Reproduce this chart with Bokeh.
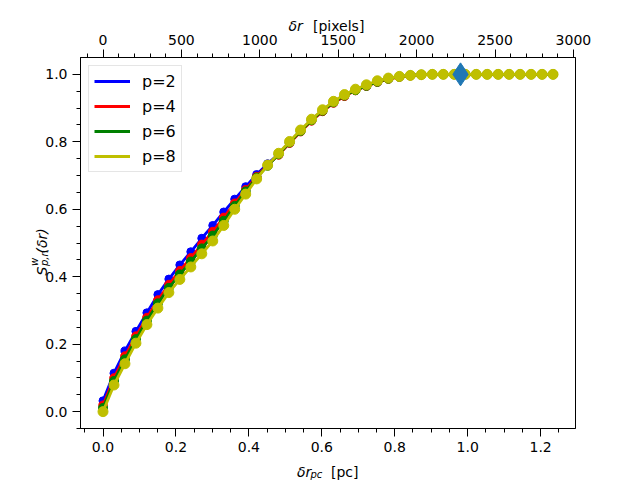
import math
from bokeh.plotting import figure
from bokeh.models import (Range1d, LinearAxis, FixedTicker, PrintfTickFormatter,
                          Label, Legend)
from bokeh.embed import file_html
from bokeh.resources import INLINE

# ---------------- data ----------------
lag_pixels = [0, 70, 140, 210, 280, 350, 420, 490, 560, 630, 700, 770, 840, 910,
              980, 1050, 1120, 1190, 1260, 1330, 1400, 1470, 1540, 1610, 1680,
              1750, 1820, 1890, 1960, 2030, 2100, 2170, 2240, 2310, 2380, 2450,
              2520, 2590, 2660, 2730, 2800, 2870]
PC_PER_PIXEL = 4.3e-4

s_p2 = [0.032, 0.114, 0.180, 0.238, 0.293, 0.347, 0.393, 0.435, 0.474, 0.514,
        0.552, 0.592, 0.630, 0.667, 0.703, 0.735, 0.764, 0.799, 0.833, 0.865,
        0.893, 0.918, 0.938, 0.954, 0.967, 0.979, 0.988, 0.993, 0.997, 0.999,
        1.0, 1.0, 1.0, 1.0, 1.0, 1.0, 1.0, 1.0, 1.0, 1.0, 1.0, 1.0]
s_p4 = [0.019, 0.100, 0.165, 0.224, 0.279, 0.331, 0.377, 0.418, 0.456, 0.496,
        0.534, 0.576, 0.618, 0.658, 0.697, 0.731, 0.761, 0.796, 0.830, 0.862,
        0.890, 0.915, 0.935, 0.952, 0.965, 0.977, 0.986, 0.992, 0.996, 0.999,
        1.0, 1.0, 1.0, 1.0, 1.0, 1.0, 1.0, 1.0, 1.0, 1.0, 1.0, 1.0]
s_p6 = [0.011, 0.091, 0.155, 0.215, 0.270, 0.321, 0.367, 0.407, 0.445, 0.484,
        0.522, 0.566, 0.610, 0.653, 0.694, 0.729, 0.763, 0.798, 0.832, 0.864,
        0.892, 0.917, 0.937, 0.953, 0.966, 0.978, 0.987, 0.993, 0.997, 0.999,
        1.0, 1.0, 1.0, 1.0, 1.0, 1.0, 1.0, 1.0, 1.0, 1.0, 1.0, 1.0]
s_p8 = [0.000, 0.079, 0.142, 0.203, 0.258, 0.307, 0.353, 0.392, 0.429, 0.468,
        0.506, 0.552, 0.600, 0.645, 0.690, 0.731, 0.766, 0.801, 0.835, 0.867,
        0.895, 0.920, 0.940, 0.956, 0.969, 0.981, 0.989, 0.994, 0.997, 0.999,
        1.0, 1.0, 1.0, 1.0, 1.0, 1.0, 1.0, 1.0, 1.0, 1.0, 1.0, 1.0]

series_labels = ["p=2", "p=4", "p=6", "p=8"]
series_values = [s_p2, s_p4, s_p6, s_p8]
series_colors = ["#0000ff", "#ff0000", "#008000", "#bfbf00"]
marker_sizes = [8, 8.5, 9, 10]

marker_pixel = [2280]
marker_value = [1.0]

bottom_ticks = [0.0, 0.2, 0.4, 0.6, 0.8, 1.0, 1.2]
top_ticks = [0, 500, 1000, 1500, 2000, 2500, 3000]
left_ticks = [0.0, 0.2, 0.4, 0.6, 0.8, 1.0]

lag_pc = [px * PC_PER_PIXEL for px in lag_pixels]

FONT = "DejaVu Sans"

x0, x1 = -0.0617, 1.2957
p = figure(frame_width=495, frame_height=371,
           x_range=Range1d(x0, x1), y_range=Range1d(-0.05, 1.05),
           output_backend="svg", toolbar_location=None,
           min_border_left=80, min_border_top=57, min_border_right=60,
           min_border_bottom=40)
p.extra_x_ranges = {"pix": Range1d(x0 / PC_PER_PIXEL, x1 / PC_PER_PIXEL)}
p.xgrid.visible = False
p.ygrid.visible = False
p.outline_line_color = "black"
p.outline_line_width = 1
p.background_fill_color = "white"
p.border_fill_color = "white"


def style_axis(ax, ticks, fmt, nminor):
    ax.formatter = PrintfTickFormatter(format=fmt)
    ax.major_label_text_font = FONT
    ax.major_label_text_font_size = "14px"
    ax.major_label_text_color = "black"
    ax.axis_line_color = "black"
    ax.major_tick_line_color = "black"
    ax.minor_tick_line_color = "black"
    ax.major_tick_out = 8
    ax.major_tick_in = 0
    ax.minor_tick_out = 4
    ax.minor_tick_in = 0
    ax.major_label_standoff = 5
    step = ticks[1] - ticks[0]
    minors = []
    lo = ticks[0] - step
    for k in range(len(ticks) + 1):
        base = lo + k * step
        for j in range(1, nminor):
            minors.append(base + j * step / nminor)
    ax.ticker = FixedTicker(ticks=ticks, minor_ticks=minors)


style_axis(p.xaxis[0], bottom_ticks, "%.1f", 4)
style_axis(p.yaxis[0], left_ticks, "%.1f", 4)

top_axis = LinearAxis(x_range_name="pix")
style_axis(top_axis, top_ticks, "%d", 5)
p.add_layout(top_axis, "above")

legend_items = []
for lab_txt, vals, col, ms in zip(series_labels, series_values, series_colors, marker_sizes):
    r = p.line(lag_pc, vals, line_color=col, line_width=2.8)
    p.scatter(lag_pc, vals, size=ms, fill_color=col, line_color=col)
    legend_items.append((lab_txt, [r]))

p.scatter(marker_pixel, marker_value, x_range_name="pix", marker="diamond",
          size=23, fill_color="#1f77b4", line_color="#1f77b4")

legend = Legend(items=legend_items, location="top_left", margin=8,
                padding=5, spacing=5, glyph_width=36, glyph_height=20,
                label_height=20, label_standoff=12,
                label_text_font=FONT, label_text_font_size="16px",
                label_text_color="black",
                border_line_color="#cccccc", border_line_width=1,
                background_fill_alpha=0.8)
p.add_layout(legend)

# ----- axis titles with sub/superscripts, placed in canvas pixels -----
try:
    Label(x=0, y=0, x_units="canvas", y_units="canvas", text="t")
    UNITS = "canvas"
except Exception:
    UNITS = "screen"


def lab(text, x, y, size, italic=False, angle=0.0):
    p.add_layout(Label(x=x, y=y, x_units=UNITS, y_units=UNITS, text=text,
                       text_font=FONT, text_font_size=size,
                       text_font_style="italic" if italic else "normal",
                       text_align="left", text_baseline="alphabetic",
                       angle=angle, text_color="black"), "below")


# bottom: δr_pc [pc]
lab("δr", 296.5, 471.5, "14px", italic=True)
lab("pc", 310, 474, "10px", italic=True)
lab("[pc]", 330.5, 471.5, "14px")
# top: δr   [pixels]
lab("δr", 288, 25, "14px", italic=True)
lab("[pixels]", 312.5, 25, "14px")
# left: S^w_{p,n}(δr)  (rotated, reads bottom to top)
A = math.pi / 2
lab("S", 41.5, 275, "14px", italic=True, angle=A)
lab("w", 33.5, 265.5, "10px", italic=True, angle=A)
lab("p,n", 44, 265.5, "10px", italic=True, angle=A)
lab("(δr)", 41.5, 253, "14px", italic=True, angle=A)

open("out.html", "w").write(file_html(p, INLINE))
